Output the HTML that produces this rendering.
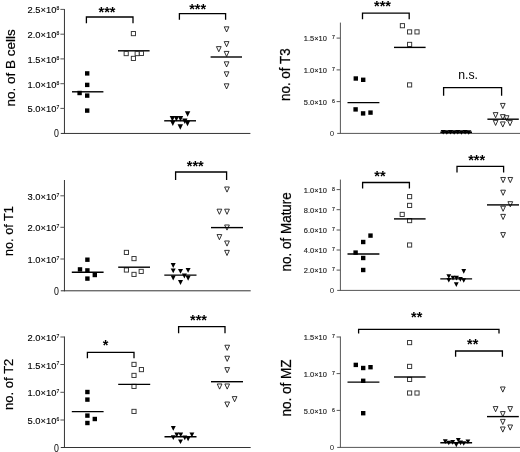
<!DOCTYPE html>
<html><head><meta charset="utf-8"><title>B cell subsets</title>
<style>
html,body{margin:0;padding:0;background:#fff;}
body{width:520px;height:452px;overflow:hidden;font-family:"Liberation Sans", sans-serif;}
svg{display:block;font-family:"Liberation Sans", sans-serif;filter:grayscale(1);}
</style></head>
<body>
<svg width="520" height="452" viewBox="0 0 520 452">
<rect width="520" height="452" fill="#fff"/>
<line x1="64.45" y1="9.00" x2="64.45" y2="133.95" stroke="#333" stroke-width="1" stroke-linecap="butt"/>
<line x1="60.80" y1="133.45" x2="250.40" y2="133.45" stroke="#333" stroke-width="1" stroke-linecap="butt"/>
<line x1="60.40" y1="9.40" x2="64.45" y2="9.40" stroke="#555" stroke-width="1" stroke-linecap="butt"/>
<text x="56.40" y="13.40" font-size="9.8" text-anchor="end" fill="#000" textLength="28.90" lengthAdjust="spacingAndGlyphs" stroke="#000" stroke-width="0.12">2.5×10</text>
<text x="56.60" y="10.20" font-size="6.2" text-anchor="start" fill="#000" textLength="2.80" lengthAdjust="spacingAndGlyphs" stroke="#000" stroke-width="0.12">8</text>
<line x1="60.40" y1="34.20" x2="64.45" y2="34.20" stroke="#555" stroke-width="1" stroke-linecap="butt"/>
<text x="56.40" y="38.20" font-size="9.8" text-anchor="end" fill="#000" textLength="28.90" lengthAdjust="spacingAndGlyphs" stroke="#000" stroke-width="0.12">2.0×10</text>
<text x="56.60" y="35.00" font-size="6.2" text-anchor="start" fill="#000" textLength="2.80" lengthAdjust="spacingAndGlyphs" stroke="#000" stroke-width="0.12">8</text>
<line x1="60.40" y1="58.90" x2="64.45" y2="58.90" stroke="#555" stroke-width="1" stroke-linecap="butt"/>
<text x="56.40" y="62.90" font-size="9.8" text-anchor="end" fill="#000" textLength="28.90" lengthAdjust="spacingAndGlyphs" stroke="#000" stroke-width="0.12">1.5×10</text>
<text x="56.60" y="59.70" font-size="6.2" text-anchor="start" fill="#000" textLength="2.80" lengthAdjust="spacingAndGlyphs" stroke="#000" stroke-width="0.12">8</text>
<line x1="60.40" y1="83.70" x2="64.45" y2="83.70" stroke="#555" stroke-width="1" stroke-linecap="butt"/>
<text x="56.40" y="87.70" font-size="9.8" text-anchor="end" fill="#000" textLength="28.90" lengthAdjust="spacingAndGlyphs" stroke="#000" stroke-width="0.12">1.0×10</text>
<text x="56.60" y="84.50" font-size="6.2" text-anchor="start" fill="#000" textLength="2.80" lengthAdjust="spacingAndGlyphs" stroke="#000" stroke-width="0.12">8</text>
<line x1="60.40" y1="108.40" x2="64.45" y2="108.40" stroke="#555" stroke-width="1" stroke-linecap="butt"/>
<text x="56.40" y="112.40" font-size="9.8" text-anchor="end" fill="#000" textLength="28.90" lengthAdjust="spacingAndGlyphs" stroke="#000" stroke-width="0.12">5.0×10</text>
<text x="56.60" y="109.20" font-size="6.2" text-anchor="start" fill="#000" textLength="2.80" lengthAdjust="spacingAndGlyphs" stroke="#000" stroke-width="0.12">7</text>
<text x="58.90" y="137.15" font-size="10.2" text-anchor="end" fill="#000" textLength="4.90" lengthAdjust="spacingAndGlyphs">0</text>
<text transform="translate(14.60 106.40) rotate(-90)" font-size="13" fill="#000" textLength="77.10" lengthAdjust="spacingAndGlyphs" stroke="#000" stroke-width="0.2">no. of B cells</text>
<rect x="85.00" y="71.20" width="4.4" height="4.4" fill="#000"/>
<rect x="85.00" y="82.70" width="4.4" height="4.4" fill="#000"/>
<rect x="77.40" y="90.80" width="4.4" height="4.4" fill="#000"/>
<rect x="85.00" y="93.40" width="4.4" height="4.4" fill="#000"/>
<rect x="85.00" y="108.40" width="4.4" height="4.4" fill="#000"/>
<line x1="72.00" y1="91.80" x2="103.40" y2="91.80" stroke="#000" stroke-width="1.4" stroke-linecap="butt"/>
<line x1="118.00" y1="50.80" x2="149.60" y2="50.80" stroke="#000" stroke-width="1.4" stroke-linecap="butt"/>
<rect x="131.33" y="31.53" width="4.15" height="4.15" fill="#fff" stroke="#333" stroke-width="0.95"/>
<rect x="124.12" y="51.52" width="4.15" height="4.15" fill="#fff" stroke="#333" stroke-width="0.95"/>
<rect x="131.33" y="56.32" width="4.15" height="4.15" fill="#fff" stroke="#333" stroke-width="0.95"/>
<rect x="135.12" y="51.52" width="4.15" height="4.15" fill="#fff" stroke="#333" stroke-width="0.95"/>
<rect x="139.33" y="51.32" width="4.15" height="4.15" fill="#fff" stroke="#333" stroke-width="0.95"/>
<line x1="164.20" y1="120.80" x2="196.00" y2="120.80" stroke="#000" stroke-width="1.4" stroke-linecap="butt"/>
<path d="M184.90 111.20H190.30L187.60 116.70Z" fill="#000"/>
<path d="M169.70 116.10H175.10L172.40 121.60Z" fill="#000"/>
<path d="M173.70 116.10H179.10L176.40 121.60Z" fill="#000"/>
<path d="M177.80 116.10H183.20L180.50 121.60Z" fill="#000"/>
<path d="M182.10 118.60H187.50L184.80 124.10Z" fill="#000"/>
<path d="M170.10 120.50H175.50L172.80 126.00Z" fill="#000"/>
<path d="M184.80 120.80H190.20L187.50 126.30Z" fill="#000"/>
<path d="M177.60 124.20H183.00L180.30 129.70Z" fill="#000"/>
<path d="M224.23 26.83H228.97L226.60 31.97Z" fill="#fff" stroke="#111" stroke-width="0.85" stroke-linejoin="miter"/>
<path d="M224.23 41.62H228.97L226.60 46.76Z" fill="#fff" stroke="#111" stroke-width="0.85" stroke-linejoin="miter"/>
<path d="M216.43 46.62H221.17L218.80 51.76Z" fill="#fff" stroke="#111" stroke-width="0.85" stroke-linejoin="miter"/>
<path d="M224.23 51.42H228.97L226.60 56.56Z" fill="#fff" stroke="#111" stroke-width="0.85" stroke-linejoin="miter"/>
<path d="M224.23 61.82H228.97L226.60 66.96Z" fill="#fff" stroke="#111" stroke-width="0.85" stroke-linejoin="miter"/>
<path d="M224.23 71.82H228.97L226.60 76.96Z" fill="#fff" stroke="#111" stroke-width="0.85" stroke-linejoin="miter"/>
<path d="M224.23 83.82H228.97L226.60 88.96Z" fill="#fff" stroke="#111" stroke-width="0.85" stroke-linejoin="miter"/>
<line x1="210.60" y1="57.00" x2="242.00" y2="57.00" stroke="#000" stroke-width="1.4" stroke-linecap="butt"/>
<path d="M86.40 23.20V17.00H133.00V23.20" fill="none" stroke="#000" stroke-width="1.3" stroke-linejoin="miter"/>
<text x="107.00" y="17.20" font-size="14.5" text-anchor="middle" fill="#000" font-weight="bold">***</text>
<path d="M179.40 19.80V13.60H225.60V19.80" fill="none" stroke="#000" stroke-width="1.3" stroke-linejoin="miter"/>
<text x="197.60" y="13.60" font-size="14.5" text-anchor="middle" fill="#000" font-weight="bold">***</text>
<line x1="340.40" y1="22.60" x2="340.40" y2="133.90" stroke="#555" stroke-width="1" stroke-linecap="butt"/>
<line x1="337.20" y1="133.40" x2="520.00" y2="133.40" stroke="#555" stroke-width="1" stroke-linecap="butt"/>
<line x1="336.60" y1="38.10" x2="340.40" y2="38.10" stroke="#555" stroke-width="1" stroke-linecap="butt"/>
<text x="303.80" y="41.40" font-size="7.9" text-anchor="start" fill="#222" textLength="23.00" lengthAdjust="spacingAndGlyphs" stroke="#222" stroke-width="0.15">1.5×10</text>
<text x="332.00" y="39.40" font-size="5.2" text-anchor="start" fill="#222" stroke="#222" stroke-width="0.15">7</text>
<line x1="336.60" y1="69.90" x2="340.40" y2="69.90" stroke="#555" stroke-width="1" stroke-linecap="butt"/>
<text x="303.80" y="73.20" font-size="7.9" text-anchor="start" fill="#222" textLength="23.00" lengthAdjust="spacingAndGlyphs" stroke="#222" stroke-width="0.15">1.0×10</text>
<text x="332.00" y="71.20" font-size="5.2" text-anchor="start" fill="#222" stroke="#222" stroke-width="0.15">7</text>
<line x1="336.60" y1="101.60" x2="340.40" y2="101.60" stroke="#555" stroke-width="1" stroke-linecap="butt"/>
<text x="303.80" y="104.90" font-size="7.9" text-anchor="start" fill="#222" textLength="23.00" lengthAdjust="spacingAndGlyphs" stroke="#222" stroke-width="0.15">5.0×10</text>
<text x="332.00" y="102.90" font-size="5.2" text-anchor="start" fill="#222" stroke="#222" stroke-width="0.15">6</text>
<text x="334.20" y="136.40" font-size="7.9" text-anchor="end" fill="#222">0</text>
<text transform="translate(290.00 101.00) rotate(-90)" font-size="14.6" fill="#000" textLength="52.60" lengthAdjust="spacingAndGlyphs" stroke="#000" stroke-width="0.25">no. of T3</text>
<rect x="353.60" y="76.30" width="4.4" height="4.4" fill="#000"/>
<rect x="361.00" y="77.60" width="4.4" height="4.4" fill="#000"/>
<rect x="353.40" y="107.20" width="4.4" height="4.4" fill="#000"/>
<rect x="360.90" y="111.20" width="4.4" height="4.4" fill="#000"/>
<rect x="368.30" y="110.40" width="4.4" height="4.4" fill="#000"/>
<line x1="347.50" y1="102.60" x2="379.40" y2="102.60" stroke="#000" stroke-width="1.4" stroke-linecap="butt"/>
<rect x="400.32" y="23.62" width="4.15" height="4.15" fill="#fff" stroke="#333" stroke-width="0.95"/>
<rect x="407.53" y="29.82" width="4.15" height="4.15" fill="#fff" stroke="#333" stroke-width="0.95"/>
<rect x="414.93" y="29.82" width="4.15" height="4.15" fill="#fff" stroke="#333" stroke-width="0.95"/>
<rect x="407.53" y="42.32" width="4.15" height="4.15" fill="#fff" stroke="#333" stroke-width="0.95"/>
<rect x="407.53" y="82.83" width="4.15" height="4.15" fill="#fff" stroke="#333" stroke-width="0.95"/>
<line x1="394.00" y1="47.40" x2="425.60" y2="47.40" stroke="#000" stroke-width="1.4" stroke-linecap="butt"/>
<path d="M440.60 130.00H445.80L443.20 134.40Z" fill="#000"/>
<path d="M444.25 130.30H449.45L446.85 134.70Z" fill="#000"/>
<path d="M447.90 130.00H453.10L450.50 134.40Z" fill="#000"/>
<path d="M451.55 130.30H456.75L454.15 134.70Z" fill="#000"/>
<path d="M455.20 130.00H460.40L457.80 134.40Z" fill="#000"/>
<path d="M458.85 130.30H464.05L461.45 134.70Z" fill="#000"/>
<path d="M462.50 130.00H467.70L465.10 134.40Z" fill="#000"/>
<path d="M466.15 130.30H471.35L468.75 134.70Z" fill="#000"/>
<line x1="440.30" y1="132.30" x2="472.00" y2="132.30" stroke="#000" stroke-width="1.6" stroke-linecap="butt"/>
<path d="M500.43 103.42H505.17L502.80 108.56Z" fill="#fff" stroke="#111" stroke-width="0.85" stroke-linejoin="miter"/>
<path d="M493.23 112.62H497.97L495.60 117.77Z" fill="#fff" stroke="#111" stroke-width="0.85" stroke-linejoin="miter"/>
<path d="M500.43 114.62H505.17L502.80 119.77Z" fill="#fff" stroke="#111" stroke-width="0.85" stroke-linejoin="miter"/>
<path d="M504.23 115.72H508.97L506.60 120.86Z" fill="#fff" stroke="#111" stroke-width="0.85" stroke-linejoin="miter"/>
<path d="M493.23 120.32H497.97L495.60 125.46Z" fill="#fff" stroke="#111" stroke-width="0.85" stroke-linejoin="miter"/>
<path d="M500.43 121.92H505.17L502.80 127.06Z" fill="#fff" stroke="#111" stroke-width="0.85" stroke-linejoin="miter"/>
<path d="M507.63 120.62H512.37L510.00 125.77Z" fill="#fff" stroke="#111" stroke-width="0.85" stroke-linejoin="miter"/>
<line x1="487.40" y1="119.20" x2="518.80" y2="119.20" stroke="#000" stroke-width="1.4" stroke-linecap="butt"/>
<path d="M362.50 19.20V13.20H409.20V19.20" fill="none" stroke="#000" stroke-width="1.3" stroke-linejoin="miter"/>
<text x="382.50" y="11.40" font-size="14.5" text-anchor="middle" fill="#000" font-weight="bold">***</text>
<path d="M443.60 95.80V87.70H501.60V95.80" fill="none" stroke="#000" stroke-width="1.3" stroke-linejoin="miter"/>
<text x="458.20" y="79.20" font-size="12.2" text-anchor="start" fill="#000" textLength="19.80" lengthAdjust="spacingAndGlyphs">n.s.</text>
<line x1="64.45" y1="180.00" x2="64.45" y2="291.30" stroke="#333" stroke-width="1" stroke-linecap="butt"/>
<line x1="60.80" y1="290.80" x2="250.70" y2="290.80" stroke="#333" stroke-width="1" stroke-linecap="butt"/>
<line x1="60.40" y1="195.80" x2="64.45" y2="195.80" stroke="#555" stroke-width="1" stroke-linecap="butt"/>
<text x="56.40" y="199.80" font-size="9.8" text-anchor="end" fill="#000" textLength="28.90" lengthAdjust="spacingAndGlyphs" stroke="#000" stroke-width="0.12">3.0×10</text>
<text x="56.60" y="196.60" font-size="6.2" text-anchor="start" fill="#000" textLength="2.80" lengthAdjust="spacingAndGlyphs" stroke="#000" stroke-width="0.12">7</text>
<line x1="60.40" y1="227.30" x2="64.45" y2="227.30" stroke="#555" stroke-width="1" stroke-linecap="butt"/>
<text x="56.40" y="231.30" font-size="9.8" text-anchor="end" fill="#000" textLength="28.90" lengthAdjust="spacingAndGlyphs" stroke="#000" stroke-width="0.12">2.0×10</text>
<text x="56.60" y="228.10" font-size="6.2" text-anchor="start" fill="#000" textLength="2.80" lengthAdjust="spacingAndGlyphs" stroke="#000" stroke-width="0.12">7</text>
<line x1="60.40" y1="259.00" x2="64.45" y2="259.00" stroke="#555" stroke-width="1" stroke-linecap="butt"/>
<text x="56.40" y="263.00" font-size="9.8" text-anchor="end" fill="#000" textLength="28.90" lengthAdjust="spacingAndGlyphs" stroke="#000" stroke-width="0.12">1.0×10</text>
<text x="56.60" y="259.80" font-size="6.2" text-anchor="start" fill="#000" textLength="2.80" lengthAdjust="spacingAndGlyphs" stroke="#000" stroke-width="0.12">7</text>
<text x="58.90" y="295.00" font-size="10.2" text-anchor="end" fill="#000" textLength="4.90" lengthAdjust="spacingAndGlyphs">0</text>
<text transform="translate(13.40 256.00) rotate(-90)" font-size="13" fill="#000" textLength="49.80" lengthAdjust="spacingAndGlyphs" stroke="#000" stroke-width="0.2">no. of T1</text>
<rect x="85.20" y="257.50" width="4.4" height="4.4" fill="#000"/>
<rect x="77.80" y="267.20" width="4.4" height="4.4" fill="#000"/>
<rect x="85.20" y="268.20" width="4.4" height="4.4" fill="#000"/>
<rect x="92.60" y="272.80" width="4.4" height="4.4" fill="#000"/>
<rect x="85.20" y="276.40" width="4.4" height="4.4" fill="#000"/>
<line x1="71.80" y1="272.20" x2="103.60" y2="272.20" stroke="#000" stroke-width="1.4" stroke-linecap="butt"/>
<rect x="124.33" y="250.33" width="4.15" height="4.15" fill="#fff" stroke="#333" stroke-width="0.95"/>
<rect x="131.93" y="256.53" width="4.15" height="4.15" fill="#fff" stroke="#333" stroke-width="0.95"/>
<rect x="124.33" y="267.93" width="4.15" height="4.15" fill="#fff" stroke="#333" stroke-width="0.95"/>
<rect x="131.93" y="272.32" width="4.15" height="4.15" fill="#fff" stroke="#333" stroke-width="0.95"/>
<rect x="139.12" y="269.32" width="4.15" height="4.15" fill="#fff" stroke="#333" stroke-width="0.95"/>
<line x1="118.20" y1="267.20" x2="150.00" y2="267.20" stroke="#000" stroke-width="1.4" stroke-linecap="butt"/>
<path d="M170.70 263.00H175.70L173.20 267.90Z" fill="#000"/>
<path d="M170.70 268.40H175.70L173.20 273.30Z" fill="#000"/>
<path d="M178.00 268.90H183.00L180.50 273.80Z" fill="#000"/>
<path d="M185.60 267.90H190.60L188.10 272.80Z" fill="#000"/>
<path d="M181.90 273.60H186.90L184.40 278.50Z" fill="#000"/>
<path d="M170.70 275.60H175.70L173.20 280.50Z" fill="#000"/>
<path d="M185.60 275.80H190.60L188.10 280.70Z" fill="#000"/>
<path d="M178.00 280.10H183.00L180.50 285.00Z" fill="#000"/>
<line x1="164.30" y1="275.15" x2="196.50" y2="275.15" stroke="#000" stroke-width="1.4" stroke-linecap="butt"/>
<path d="M224.63 186.98H229.37L227.00 192.12Z" fill="#fff" stroke="#111" stroke-width="0.85" stroke-linejoin="miter"/>
<path d="M217.03 209.18H221.77L219.40 214.31Z" fill="#fff" stroke="#111" stroke-width="0.85" stroke-linejoin="miter"/>
<path d="M224.63 209.18H229.37L227.00 214.31Z" fill="#fff" stroke="#111" stroke-width="0.85" stroke-linejoin="miter"/>
<path d="M224.63 224.98H229.37L227.00 230.12Z" fill="#fff" stroke="#111" stroke-width="0.85" stroke-linejoin="miter"/>
<path d="M217.03 234.58H221.77L219.40 239.72Z" fill="#fff" stroke="#111" stroke-width="0.85" stroke-linejoin="miter"/>
<path d="M224.63 240.98H229.37L227.00 246.12Z" fill="#fff" stroke="#111" stroke-width="0.85" stroke-linejoin="miter"/>
<path d="M224.63 250.38H229.37L227.00 255.52Z" fill="#fff" stroke="#111" stroke-width="0.85" stroke-linejoin="miter"/>
<line x1="211.00" y1="227.60" x2="243.00" y2="227.60" stroke="#000" stroke-width="1.4" stroke-linecap="butt"/>
<path d="M175.60 180.00V172.00H226.60V180.00" fill="none" stroke="#000" stroke-width="1.3" stroke-linejoin="miter"/>
<text x="195.30" y="171.20" font-size="14.5" text-anchor="middle" fill="#000" font-weight="bold">***</text>
<line x1="340.40" y1="179.60" x2="340.40" y2="290.90" stroke="#555" stroke-width="1" stroke-linecap="butt"/>
<line x1="337.20" y1="290.40" x2="520.00" y2="290.40" stroke="#555" stroke-width="1" stroke-linecap="butt"/>
<line x1="336.60" y1="189.60" x2="340.40" y2="189.60" stroke="#555" stroke-width="1" stroke-linecap="butt"/>
<text x="303.80" y="192.90" font-size="7.9" text-anchor="start" fill="#222" textLength="23.00" lengthAdjust="spacingAndGlyphs" stroke="#222" stroke-width="0.15">1.0×10</text>
<text x="332.00" y="190.90" font-size="5.2" text-anchor="start" fill="#222" stroke="#222" stroke-width="0.15">8</text>
<line x1="336.60" y1="209.70" x2="340.40" y2="209.70" stroke="#555" stroke-width="1" stroke-linecap="butt"/>
<text x="303.80" y="213.00" font-size="7.9" text-anchor="start" fill="#222" textLength="23.00" lengthAdjust="spacingAndGlyphs" stroke="#222" stroke-width="0.15">8.0×10</text>
<text x="332.00" y="211.00" font-size="5.2" text-anchor="start" fill="#222" stroke="#222" stroke-width="0.15">7</text>
<line x1="336.60" y1="230.00" x2="340.40" y2="230.00" stroke="#555" stroke-width="1" stroke-linecap="butt"/>
<text x="303.80" y="233.30" font-size="7.9" text-anchor="start" fill="#222" textLength="23.00" lengthAdjust="spacingAndGlyphs" stroke="#222" stroke-width="0.15">6.0×10</text>
<text x="332.00" y="231.30" font-size="5.2" text-anchor="start" fill="#222" stroke="#222" stroke-width="0.15">7</text>
<line x1="336.60" y1="250.00" x2="340.40" y2="250.00" stroke="#555" stroke-width="1" stroke-linecap="butt"/>
<text x="303.80" y="253.30" font-size="7.9" text-anchor="start" fill="#222" textLength="23.00" lengthAdjust="spacingAndGlyphs" stroke="#222" stroke-width="0.15">4.0×10</text>
<text x="332.00" y="251.30" font-size="5.2" text-anchor="start" fill="#222" stroke="#222" stroke-width="0.15">7</text>
<line x1="336.60" y1="270.10" x2="340.40" y2="270.10" stroke="#555" stroke-width="1" stroke-linecap="butt"/>
<text x="303.80" y="273.40" font-size="7.9" text-anchor="start" fill="#222" textLength="23.00" lengthAdjust="spacingAndGlyphs" stroke="#222" stroke-width="0.15">2.0×10</text>
<text x="332.00" y="271.40" font-size="5.2" text-anchor="start" fill="#222" stroke="#222" stroke-width="0.15">7</text>
<text x="334.20" y="293.40" font-size="7.9" text-anchor="end" fill="#222">0</text>
<text transform="translate(290.80 271.40) rotate(-90)" font-size="15.2" fill="#000" textLength="79.20" lengthAdjust="spacingAndGlyphs" stroke="#000" stroke-width="0.25">no. of Mature</text>
<rect x="368.30" y="233.40" width="4.4" height="4.4" fill="#000"/>
<rect x="361.00" y="239.80" width="4.4" height="4.4" fill="#000"/>
<rect x="353.40" y="250.40" width="4.4" height="4.4" fill="#000"/>
<rect x="361.00" y="255.80" width="4.4" height="4.4" fill="#000"/>
<rect x="361.00" y="267.80" width="4.4" height="4.4" fill="#000"/>
<line x1="347.50" y1="254.00" x2="379.40" y2="254.00" stroke="#000" stroke-width="1.4" stroke-linecap="butt"/>
<rect x="407.53" y="194.53" width="4.15" height="4.15" fill="#fff" stroke="#333" stroke-width="0.95"/>
<rect x="407.53" y="203.33" width="4.15" height="4.15" fill="#fff" stroke="#333" stroke-width="0.95"/>
<rect x="400.12" y="212.33" width="4.15" height="4.15" fill="#fff" stroke="#333" stroke-width="0.95"/>
<rect x="407.53" y="218.53" width="4.15" height="4.15" fill="#fff" stroke="#333" stroke-width="0.95"/>
<rect x="407.53" y="242.93" width="4.15" height="4.15" fill="#fff" stroke="#333" stroke-width="0.95"/>
<line x1="394.00" y1="218.90" x2="425.60" y2="218.90" stroke="#000" stroke-width="1.4" stroke-linecap="butt"/>
<path d="M461.35 269.10H466.15L463.75 273.70Z" fill="#000"/>
<path d="M446.40 274.25H451.20L448.80 278.85Z" fill="#000"/>
<path d="M450.60 275.80H455.40L453.00 280.40Z" fill="#000"/>
<path d="M454.10 275.80H458.90L456.50 280.40Z" fill="#000"/>
<path d="M458.00 277.10H462.80L460.40 281.70Z" fill="#000"/>
<path d="M446.40 278.00H451.20L448.80 282.60Z" fill="#000"/>
<path d="M461.35 278.20H466.15L463.75 282.80Z" fill="#000"/>
<path d="M453.90 282.30H458.70L456.30 286.90Z" fill="#000"/>
<line x1="440.30" y1="278.90" x2="472.10" y2="278.90" stroke="#000" stroke-width="1.4" stroke-linecap="butt"/>
<path d="M500.73 177.48H505.47L503.10 182.62Z" fill="#fff" stroke="#111" stroke-width="0.85" stroke-linejoin="miter"/>
<path d="M507.93 177.48H512.67L510.30 182.62Z" fill="#fff" stroke="#111" stroke-width="0.85" stroke-linejoin="miter"/>
<path d="M500.73 190.18H505.47L503.10 195.31Z" fill="#fff" stroke="#111" stroke-width="0.85" stroke-linejoin="miter"/>
<path d="M507.93 201.68H512.67L510.30 206.81Z" fill="#fff" stroke="#111" stroke-width="0.85" stroke-linejoin="miter"/>
<path d="M500.73 206.18H505.47L503.10 211.31Z" fill="#fff" stroke="#111" stroke-width="0.85" stroke-linejoin="miter"/>
<path d="M500.73 214.38H505.47L503.10 219.52Z" fill="#fff" stroke="#111" stroke-width="0.85" stroke-linejoin="miter"/>
<path d="M500.73 232.58H505.47L503.10 237.72Z" fill="#fff" stroke="#111" stroke-width="0.85" stroke-linejoin="miter"/>
<line x1="487.00" y1="204.90" x2="519.00" y2="204.90" stroke="#000" stroke-width="1.4" stroke-linecap="butt"/>
<path d="M362.60 188.60V182.50H409.40V188.60" fill="none" stroke="#000" stroke-width="1.3" stroke-linejoin="miter"/>
<text x="380.00" y="181.00" font-size="14.5" text-anchor="middle" fill="#000" font-weight="bold">**</text>
<path d="M457.00 172.60V166.40H503.60V172.60" fill="none" stroke="#000" stroke-width="1.3" stroke-linejoin="miter"/>
<text x="476.70" y="164.60" font-size="14.5" text-anchor="middle" fill="#000" font-weight="bold">***</text>
<line x1="64.45" y1="336.50" x2="64.45" y2="448.00" stroke="#333" stroke-width="1" stroke-linecap="butt"/>
<line x1="60.80" y1="447.50" x2="250.70" y2="447.50" stroke="#333" stroke-width="1" stroke-linecap="butt"/>
<line x1="60.40" y1="337.00" x2="64.45" y2="337.00" stroke="#555" stroke-width="1" stroke-linecap="butt"/>
<text x="56.40" y="341.00" font-size="9.8" text-anchor="end" fill="#000" textLength="28.90" lengthAdjust="spacingAndGlyphs" stroke="#000" stroke-width="0.12">2.0×10</text>
<text x="56.60" y="337.80" font-size="6.2" text-anchor="start" fill="#000" textLength="2.80" lengthAdjust="spacingAndGlyphs" stroke="#000" stroke-width="0.12">7</text>
<line x1="60.40" y1="364.50" x2="64.45" y2="364.50" stroke="#555" stroke-width="1" stroke-linecap="butt"/>
<text x="56.40" y="368.50" font-size="9.8" text-anchor="end" fill="#000" textLength="28.90" lengthAdjust="spacingAndGlyphs" stroke="#000" stroke-width="0.12">1.5×10</text>
<text x="56.60" y="365.30" font-size="6.2" text-anchor="start" fill="#000" textLength="2.80" lengthAdjust="spacingAndGlyphs" stroke="#000" stroke-width="0.12">7</text>
<line x1="60.40" y1="392.30" x2="64.45" y2="392.30" stroke="#555" stroke-width="1" stroke-linecap="butt"/>
<text x="56.40" y="396.30" font-size="9.8" text-anchor="end" fill="#000" textLength="28.90" lengthAdjust="spacingAndGlyphs" stroke="#000" stroke-width="0.12">1.0×10</text>
<text x="56.60" y="393.10" font-size="6.2" text-anchor="start" fill="#000" textLength="2.80" lengthAdjust="spacingAndGlyphs" stroke="#000" stroke-width="0.12">7</text>
<line x1="60.40" y1="420.00" x2="64.45" y2="420.00" stroke="#555" stroke-width="1" stroke-linecap="butt"/>
<text x="56.40" y="424.00" font-size="9.8" text-anchor="end" fill="#000" textLength="28.90" lengthAdjust="spacingAndGlyphs" stroke="#000" stroke-width="0.12">5.0×10</text>
<text x="56.60" y="420.80" font-size="6.2" text-anchor="start" fill="#000" textLength="2.80" lengthAdjust="spacingAndGlyphs" stroke="#000" stroke-width="0.12">6</text>
<text x="58.90" y="451.70" font-size="10.2" text-anchor="end" fill="#000" textLength="4.90" lengthAdjust="spacingAndGlyphs">0</text>
<text transform="translate(13.40 410.00) rotate(-90)" font-size="13" fill="#000" textLength="51.40" lengthAdjust="spacingAndGlyphs" stroke="#000" stroke-width="0.2">no. of T2</text>
<rect x="85.20" y="389.80" width="4.4" height="4.4" fill="#000"/>
<rect x="85.20" y="397.40" width="4.4" height="4.4" fill="#000"/>
<rect x="85.20" y="413.40" width="4.4" height="4.4" fill="#000"/>
<rect x="92.60" y="416.80" width="4.4" height="4.4" fill="#000"/>
<rect x="85.20" y="420.80" width="4.4" height="4.4" fill="#000"/>
<line x1="71.80" y1="411.60" x2="103.60" y2="411.60" stroke="#000" stroke-width="1.4" stroke-linecap="butt"/>
<rect x="131.93" y="362.32" width="4.15" height="4.15" fill="#fff" stroke="#333" stroke-width="0.95"/>
<rect x="139.33" y="367.53" width="4.15" height="4.15" fill="#fff" stroke="#333" stroke-width="0.95"/>
<rect x="131.93" y="373.32" width="4.15" height="4.15" fill="#fff" stroke="#333" stroke-width="0.95"/>
<rect x="131.93" y="384.32" width="4.15" height="4.15" fill="#fff" stroke="#333" stroke-width="0.95"/>
<rect x="131.93" y="409.32" width="4.15" height="4.15" fill="#fff" stroke="#333" stroke-width="0.95"/>
<line x1="118.20" y1="384.40" x2="150.20" y2="384.40" stroke="#000" stroke-width="1.4" stroke-linecap="butt"/>
<path d="M170.85 426.10H175.75L173.30 430.80Z" fill="#000"/>
<path d="M174.35 432.50H179.25L176.80 437.20Z" fill="#000"/>
<path d="M178.25 432.50H183.15L180.70 437.20Z" fill="#000"/>
<path d="M189.45 432.50H194.35L191.90 437.20Z" fill="#000"/>
<path d="M170.85 435.20H175.75L173.30 439.90Z" fill="#000"/>
<path d="M178.05 439.40H182.95L180.50 444.10Z" fill="#000"/>
<path d="M182.35 435.50H187.25L184.80 440.20Z" fill="#000"/>
<path d="M185.65 436.60H190.55L188.10 441.30Z" fill="#000"/>
<line x1="164.50" y1="436.80" x2="196.50" y2="436.80" stroke="#000" stroke-width="1.4" stroke-linecap="butt"/>
<path d="M224.83 345.23H229.57L227.20 350.37Z" fill="#fff" stroke="#111" stroke-width="0.85" stroke-linejoin="miter"/>
<path d="M224.83 356.23H229.57L227.20 361.37Z" fill="#fff" stroke="#111" stroke-width="0.85" stroke-linejoin="miter"/>
<path d="M224.83 367.62H229.57L227.20 372.76Z" fill="#fff" stroke="#111" stroke-width="0.85" stroke-linejoin="miter"/>
<path d="M217.23 383.98H221.97L219.60 389.12Z" fill="#fff" stroke="#111" stroke-width="0.85" stroke-linejoin="miter"/>
<path d="M224.83 383.98H229.57L227.20 389.12Z" fill="#fff" stroke="#111" stroke-width="0.85" stroke-linejoin="miter"/>
<path d="M232.23 396.62H236.97L234.60 401.76Z" fill="#fff" stroke="#111" stroke-width="0.85" stroke-linejoin="miter"/>
<path d="M224.83 402.03H229.57L227.20 407.17Z" fill="#fff" stroke="#111" stroke-width="0.85" stroke-linejoin="miter"/>
<line x1="211.00" y1="381.70" x2="243.00" y2="381.70" stroke="#000" stroke-width="1.4" stroke-linecap="butt"/>
<path d="M87.40 358.20V352.40H134.00V358.20" fill="none" stroke="#000" stroke-width="1.3" stroke-linejoin="miter"/>
<text x="105.50" y="350.00" font-size="14.5" text-anchor="middle" fill="#000" font-weight="bold">*</text>
<path d="M178.60 333.20V326.60H225.00V333.20" fill="none" stroke="#000" stroke-width="1.3" stroke-linejoin="miter"/>
<text x="198.50" y="324.60" font-size="14.5" text-anchor="middle" fill="#000" font-weight="bold">***</text>
<line x1="340.40" y1="336.50" x2="340.40" y2="447.90" stroke="#555" stroke-width="1" stroke-linecap="butt"/>
<line x1="337.20" y1="447.40" x2="520.00" y2="447.40" stroke="#555" stroke-width="1" stroke-linecap="butt"/>
<line x1="336.60" y1="337.00" x2="340.40" y2="337.00" stroke="#555" stroke-width="1" stroke-linecap="butt"/>
<text x="303.80" y="340.30" font-size="7.9" text-anchor="start" fill="#222" textLength="23.00" lengthAdjust="spacingAndGlyphs" stroke="#222" stroke-width="0.15">1.5×10</text>
<text x="332.00" y="338.30" font-size="5.2" text-anchor="start" fill="#222" stroke="#222" stroke-width="0.15">7</text>
<line x1="336.60" y1="373.60" x2="340.40" y2="373.60" stroke="#555" stroke-width="1" stroke-linecap="butt"/>
<text x="303.80" y="376.90" font-size="7.9" text-anchor="start" fill="#222" textLength="23.00" lengthAdjust="spacingAndGlyphs" stroke="#222" stroke-width="0.15">1.0×10</text>
<text x="332.00" y="374.90" font-size="5.2" text-anchor="start" fill="#222" stroke="#222" stroke-width="0.15">7</text>
<line x1="336.60" y1="410.40" x2="340.40" y2="410.40" stroke="#555" stroke-width="1" stroke-linecap="butt"/>
<text x="303.80" y="413.70" font-size="7.9" text-anchor="start" fill="#222" textLength="23.00" lengthAdjust="spacingAndGlyphs" stroke="#222" stroke-width="0.15">5.0×10</text>
<text x="332.00" y="411.70" font-size="5.2" text-anchor="start" fill="#222" stroke="#222" stroke-width="0.15">6</text>
<text x="334.20" y="450.40" font-size="7.9" text-anchor="end" fill="#222">0</text>
<text transform="translate(290.80 416.60) rotate(-90)" font-size="15.2" fill="#000" textLength="57.20" lengthAdjust="spacingAndGlyphs" stroke="#000" stroke-width="0.25">no. of MZ</text>
<rect x="353.60" y="362.70" width="4.4" height="4.4" fill="#000"/>
<rect x="361.00" y="365.80" width="4.4" height="4.4" fill="#000"/>
<rect x="368.30" y="365.00" width="4.4" height="4.4" fill="#000"/>
<rect x="361.00" y="378.60" width="4.4" height="4.4" fill="#000"/>
<rect x="361.00" y="411.00" width="4.4" height="4.4" fill="#000"/>
<line x1="347.50" y1="382.10" x2="379.40" y2="382.10" stroke="#000" stroke-width="1.4" stroke-linecap="butt"/>
<rect x="407.53" y="340.53" width="4.15" height="4.15" fill="#fff" stroke="#333" stroke-width="0.95"/>
<rect x="407.53" y="364.32" width="4.15" height="4.15" fill="#fff" stroke="#333" stroke-width="0.95"/>
<rect x="407.53" y="377.32" width="4.15" height="4.15" fill="#fff" stroke="#333" stroke-width="0.95"/>
<rect x="407.53" y="390.93" width="4.15" height="4.15" fill="#fff" stroke="#333" stroke-width="0.95"/>
<rect x="414.93" y="390.93" width="4.15" height="4.15" fill="#fff" stroke="#333" stroke-width="0.95"/>
<line x1="394.00" y1="377.00" x2="425.60" y2="377.00" stroke="#000" stroke-width="1.4" stroke-linecap="butt"/>
<path d="M442.90 439.30H447.70L445.30 443.90Z" fill="#000"/>
<path d="M450.30 440.10H455.10L452.70 444.70Z" fill="#000"/>
<path d="M455.90 437.90H460.70L458.30 442.50Z" fill="#000"/>
<path d="M465.50 439.50H470.30L467.90 444.10Z" fill="#000"/>
<path d="M446.40 440.70H451.20L448.80 445.30Z" fill="#000"/>
<path d="M453.90 442.60H458.70L456.30 447.20Z" fill="#000"/>
<path d="M461.35 441.20H466.15L463.75 445.80Z" fill="#000"/>
<path d="M458.20 440.60H463.00L460.60 445.20Z" fill="#000"/>
<line x1="440.30" y1="442.80" x2="472.10" y2="442.80" stroke="#000" stroke-width="1.4" stroke-linecap="butt"/>
<path d="M500.43 386.98H505.17L502.80 392.12Z" fill="#fff" stroke="#111" stroke-width="0.85" stroke-linejoin="miter"/>
<path d="M493.23 406.58H497.97L495.60 411.72Z" fill="#fff" stroke="#111" stroke-width="0.85" stroke-linejoin="miter"/>
<path d="M507.83 406.58H512.57L510.20 411.72Z" fill="#fff" stroke="#111" stroke-width="0.85" stroke-linejoin="miter"/>
<path d="M500.43 411.58H505.17L502.80 416.72Z" fill="#fff" stroke="#111" stroke-width="0.85" stroke-linejoin="miter"/>
<path d="M500.43 419.38H505.17L502.80 424.51Z" fill="#fff" stroke="#111" stroke-width="0.85" stroke-linejoin="miter"/>
<path d="M500.43 426.98H505.17L502.80 432.12Z" fill="#fff" stroke="#111" stroke-width="0.85" stroke-linejoin="miter"/>
<path d="M507.83 424.98H512.57L510.20 430.12Z" fill="#fff" stroke="#111" stroke-width="0.85" stroke-linejoin="miter"/>
<line x1="487.00" y1="416.60" x2="518.80" y2="416.60" stroke="#000" stroke-width="1.4" stroke-linecap="butt"/>
<path d="M358.60 333.60V329.40H499.00V333.60" fill="none" stroke="#000" stroke-width="1.3" stroke-linejoin="miter"/>
<text x="416.70" y="322.20" font-size="14.5" text-anchor="middle" fill="#000" font-weight="bold">**</text>
<path d="M455.60 356.80V351.00H502.40V356.80" fill="none" stroke="#000" stroke-width="1.3" stroke-linejoin="miter"/>
<text x="472.70" y="349.00" font-size="14.5" text-anchor="middle" fill="#000" font-weight="bold">**</text>
</svg>
</body></html>
